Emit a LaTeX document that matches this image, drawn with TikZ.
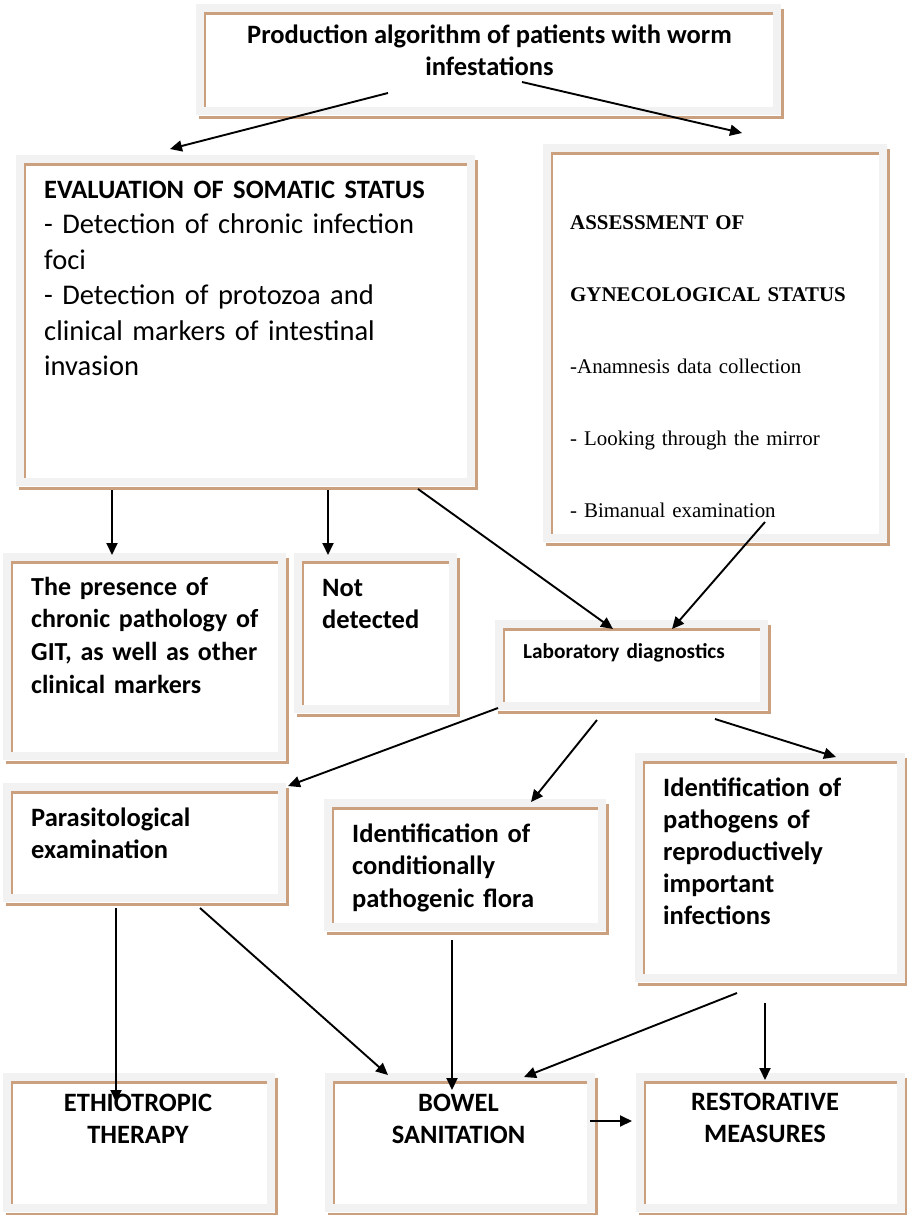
\documentclass[tikz,border=0pt]{standalone}
\usepackage{fontspec}
\setmainfont{Carlito}
\newfontfamily\tnr{Liberation Serif}
\usetikzlibrary{arrows.meta}
\definecolor{framegray}{RGB}{242,242,242}
\definecolor{framebrown}{RGB}{203,160,126}

\begin{document}
\begin{tikzpicture}[x=1pt, y=-1pt,
  panel/.style={draw=framegray, line width=8pt, fill=white, inner sep=0pt, outer sep=0pt},
  txt/.style={anchor=north west, inner sep=0pt, align=left, execute at begin node=\strut},
  ctxt/.style={anchor=north, inner sep=0pt, align=center, execute at begin node=\strut},
  arr/.style={line width=1.9pt, -{Triangle[length=12pt, width=11pt]}}
]
  \useasboundingbox (0,0) rectangle (907,1215);

  % boxes
  \node[panel, minimum width=577pt, minimum height=103pt] (title)    at (488.5, 59.5)  {};
  \node[panel, minimum width=451pt, minimum height=323pt] (somatic)  at (245.5, 320.5) {};
  \node[panel, minimum width=336pt, minimum height=390pt] (gyn)      at (715, 343)     {};
  \node[panel, minimum width=275pt, minimum height=199pt] (presence) at (144.5, 656.5) {};
  \node[panel, minimum width=155pt, minimum height=152pt] (notdet)   at (375.5, 633)   {};
  \node[panel, minimum width=265pt, minimum height=82pt]  (lab)      at (631.5, 665)   {};
  \node[panel, minimum width=275pt, minimum height=111pt] (parasit)  at (144.5, 842.5) {};
  \node[panel, minimum width=274pt, minimum height=124pt] (cond)     at (465, 865)     {};
  \node[panel, minimum width=262pt, minimum height=221pt] (pathogen) at (770, 867.5)   {};
  \node[panel, minimum width=264pt, minimum height=131pt] (ethio)    at (139, 1142.5)  {};
  \node[panel, minimum width=262pt, minimum height=131pt] (bowel)    at (460, 1142.5)  {};
  \node[panel, minimum width=261pt, minimum height=131pt] (restor)   at (770.5, 1142.5){};

  \foreach \b in {title,somatic,gyn,presence,notdet,lab,parasit,cond,pathogen,ethio,bowel,restor}{
    \draw[framebrown, line width=3pt]   ([shift={(4,5.5)}]\b.north west) -- ([shift={(-4,5.5)}]\b.north east);
    \draw[framebrown, line width=2pt]   ([shift={(5,4)}]\b.north west) -- ([shift={(5,-4)}]\b.south west);
    \draw[framebrown, line width=2.5pt] ([shift={(5.5,1)}]\b.north east) -- ([shift={(5.5,7.5)}]\b.south east);
    \draw[framebrown, line width=3pt]   ([shift={(-1,6)}]\b.south west) -- ([shift={(7,6)}]\b.south east);
  }

  % texts
  \node[ctxt, font=\bfseries\fontsize{26.5}{31.7}\selectfont] (title-txt) at (489.5, 24.5)
    {Production algorithm of patients with worm\\ infestations};
  \node[txt, text width=425pt, font=\fontsize{28.5}{35.5}\selectfont] (somatic-txt) at (44, 173.2)
    {{\bfseries\fontsize{26.5}{35.5}\selectfont EVALUATION OF SOMATIC STATUS}\\
     - Detection of chronic infection\\ foci\\ - Detection of protozoa and\\
     clinical markers of intestinal\\ invasion};
  \node[txt, text width=310pt, font=\tnr\fontsize{20.9}{72}\selectfont] (gyn-txt) at (570, 178.6)
    {{\bfseries ASSESSMENT OF}\\ {\bfseries GYNECOLOGICAL STATUS}\\ -Anamnesis data collection\\
     - Looking through the mirror\\ - Bimanual examination};
  \node[txt, text width=250pt, font=\bfseries\fontsize{26}{32.7}\selectfont] (presence-txt) at (31, 572.1)
    {The presence of\\ chronic pathology of\\ GIT, as well as other\\ clinical markers};
  \node[txt, text width=125pt, font=\bfseries\fontsize{26.5}{32.5}\selectfont] (notdet-txt) at (322, 573.2)
    {Not\\ detected};
  \node[txt, text width=240pt, font=\bfseries\fontsize{21.3}{26}\selectfont] (lab-txt) at (523, 639.8)
    {Laboratory diagnostics};
  \node[txt, text width=250pt, font=\bfseries\fontsize{26.5}{32}\selectfont] (parasit-txt) at (31, 803.6)
    {Parasitological\\ examination};
  \node[txt, text width=250pt, font=\bfseries\fontsize{26.5}{32.5}\selectfont] (cond-txt) at (352, 819.3)
    {Identification of\\ conditionally\\ pathogenic flora};
  \node[txt, text width=230pt, font=\bfseries\fontsize{26.5}{32}\selectfont] (pathogen-txt) at (663, 773.6)
    {Identification of\\ pathogens of\\ reproductively\\ important\\ infections};
  \node[ctxt, font=\bfseries\fontsize{26.5}{31.5}\selectfont] (ethio-txt)  at (138, 1094)   {ETHIOTROPIC\\ THERAPY};
  \node[ctxt, font=\bfseries\fontsize{26.5}{31.5}\selectfont] (bowel-txt)  at (458.5, 1094) {BOWEL\\ SANITATION};
  \node[ctxt, font=\bfseries\fontsize{26.5}{31.5}\selectfont] (restor-txt) at (765, 1093)   {RESTORATIVE\\ MEASURES};

  % arrows
  \draw[arr] ([shift={(-100.5,-18)}]title.south) -- ([shift={(-75.5,-10)}]somatic.north);
  \draw[arr] ([shift={(33.5,-29)}]title.south)   -- ([shift={(27,-15)}]gyn.north);
  \draw[arr] ([shift={(-133.5,8)}]somatic.south) -- ([shift={(-32.5,-2)}]presence.north);
  \draw[arr] ([shift={(82.5,8)}]somatic.south)   -- ([shift={(-47.5,-2)}]notdet.north);
  \draw[arr] ([shift={(172.5,7)}]somatic.south)  -- ([shift={(-18.5,5)}]lab.north);
  \draw[arr] ([shift={(50,-16)}]gyn.south)       -- ([shift={(40.5,5)}]lab.north);
  \draw[arr] ([shift={(-1,2)}]lab.south west)    -- ([shift={(6,-1)}]parasit.north east);
  \draw[arr] ([shift={(-34.5,14)}]lab.south)     -- ([shift={(66,-1)}]cond.north);
  \draw[arr] ([shift={(83.5,13)}]lab.south)      -- ([shift={(66,0)}]pathogen.north);
  \draw[arr] ([shift={(-28.5,10)}]parasit.south) -- ([shift={(-23,25)}]ethio.north);
  \draw[arr] ([shift={(55.5,10)}]parasit.south)  -- ([shift={(-72,-2)}]bowel.north);
  \draw[arr] ([shift={(-13,13)}]cond.south)      -- ([shift={(-8,13)}]bowel.north);
  \draw[arr] ([shift={(-33,15)}]pathogen.south)  -- ([shift={(64,0)}]bowel.north);
  \draw[arr] ([shift={(-5,25)}]pathogen.south)   -- ([shift={(-5.5,3)}]restor.north);
  \draw[arr] ([shift={(-1,-21.5)}]bowel.east)    -- ([shift={(-8,-21.5)}]restor.west);
\end{tikzpicture}
\end{document}
